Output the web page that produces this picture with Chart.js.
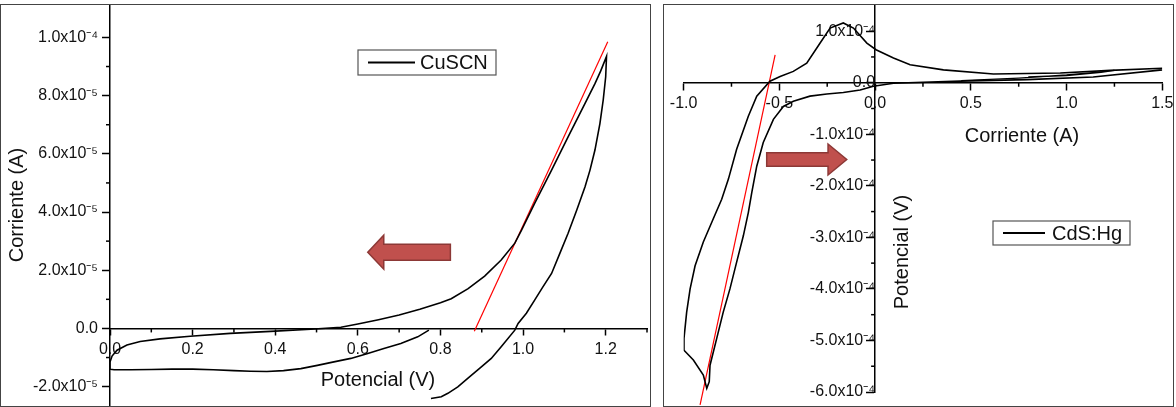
<!DOCTYPE html>
<html><head><meta charset="utf-8">
<script src="https://cdn.jsdelivr.net/npm/chart.js@4.4.0/dist/chart.umd.min.js"></script>
<style>
html,body{margin:0;padding:0;background:#fff;}
body{width:1176px;height:407px;position:relative;overflow:hidden;font-family:"Liberation Sans",Arial,sans-serif;}
.panel{position:absolute;}
#p1{left:0;top:0;width:655px;height:407px;}
#p2{left:660px;top:0;width:516px;height:407px;}
.frame{position:absolute;border:1.5px solid #444;box-sizing:border-box;pointer-events:none;}
</style></head><body>
<div class="panel" id="p1"><canvas id="c1"></canvas></div>
<div class="panel" id="p2"><canvas id="c2"></canvas></div>
<div class="frame" style="left:0;top:4px;width:651px;height:403px"></div>
<div class="frame" style="left:663px;top:4px;width:511px;height:403px"></div>
<script>
// ---------- DATA ----------
// Left panel: CuSCN  (Potencial in V, Corriente in A)
const cuscnV = [0.772,0.745,0.704,0.663,0.624,0.583,0.542,0.502,0.462,0.42,0.38,0.34,0.30,0.25,0.20,0.15,0.10,0.05,0.01,0.0,
  0.0,0.005,0.017,0.041,0.073,0.121,0.194,0.291,0.389,0.486,0.559,0.60,0.65,0.70,0.75,0.80,0.826,0.867,0.907,0.947,0.980,0.996,1.028,1.069,1.109,1.150,1.174,1.188,1.202,
  1.200,1.194,1.186,1.174,1.162,1.150,1.130,1.109,1.089,1.069,1.048,1.028,1.008,0.988,0.980,0.947,0.923,0.899,0.866,0.842,0.818,0.802,0.777];
const cuscnI = [-0.06e-5,-0.29e-5,-0.52e-5,-0.69e-5,-0.86e-5,-1.03e-5,-1.15e-5,-1.27e-5,-1.38e-5,-1.45e-5,-1.48e-5,-1.47e-5,-1.45e-5,-1.42e-5,-1.40e-5,-1.40e-5,-1.41e-5,-1.42e-5,-1.42e-5,-1.40e-5,
  -1.15e-5,-0.95e-5,-0.75e-5,-0.57e-5,-0.45e-5,-0.36e-5,-0.27e-5,-0.17e-5,-0.10e-5,-0.03e-5,0.04e-5,0.15e-5,0.30e-5,0.46e-5,0.66e-5,0.88e-5,1.02e-5,1.37e-5,1.80e-5,2.35e-5,2.93e-5,3.37e-5,4.30e-5,5.44e-5,6.58e-5,7.73e-5,8.41e-5,8.85e-5,9.35e-5,
  8.65e-5,7.85e-5,7.04e-5,6.13e-5,5.44e-5,4.87e-5,4.07e-5,3.27e-5,2.58e-5,1.89e-5,1.43e-5,0.97e-5,0.52e-5,0.17e-5,-0.06e-5,-0.63e-5,-1.03e-5,-1.32e-5,-1.72e-5,-2.01e-5,-2.23e-5,-2.35e-5,-2.41e-5];
const cuscnFitV = [0.882, 1.205];
const cuscnFitI = [-0.10e-5, 9.85e-5];

// Right panel: CdS:Hg (main cycle)
const cdsV = [1.50,1.228,0.967,0.618,0.357,0.183,0.096,0.005,-0.043,-0.113,-0.166,-0.235,-0.287,-0.357,-0.427,-0.496,-0.549,-0.618,-0.662,-0.723,
  -0.766,-0.801,-0.845,-0.897,-0.940,-0.966,-0.984,-0.998,-0.998,-0.949,-0.897,-0.879,-0.866,-0.862,-0.827,-0.793,-0.758,-0.723,-0.688,-0.662,
  -0.644,-0.618,-0.584,-0.531,-0.479,-0.427,-0.340,-0.252,-0.166,-0.078,-0.009,0.096,0.444,0.793,1.139,1.50];
const cdsI = [0.28e-4,0.24e-4,0.19e-4,0.17e-4,0.25e-4,0.35e-4,0.48e-4,0.64e-4,0.77e-4,1.06e-4,1.16e-4,1.06e-4,0.77e-4,0.38e-4,0.22e-4,0.12e-4,0.03e-4,-0.26e-4,-0.65e-4,-1.29e-4,
  -1.87e-4,-2.26e-4,-2.64e-4,-3.09e-4,-3.55e-4,-4.00e-4,-4.45e-4,-4.96e-4,-5.19e-4,-5.38e-4,-5.67e-4,-5.93e-4,-5.80e-4,-5.48e-4,-4.96e-4,-4.45e-4,-4.00e-4,-3.48e-4,-2.97e-4,-2.52e-4,
  -2.13e-4,-1.62e-4,-1.16e-4,-0.71e-4,-0.46e-4,-0.36e-4,-0.26e-4,-0.22e-4,-0.19e-4,-0.14e-4,-0.07e-4,-0.01e-4,0.03e-4,0.06e-4,0.11e-4,0.25e-4];
// Right panel: CdS:Hg (partial second cycle near the positive end)
const cdsV2 = [0.45,0.75,1.00,1.15,1.25,1.18,1.00,0.80];
const cdsI2 = [0.04e-4,0.09e-4,0.15e-4,0.20e-4,0.24e-4,0.20e-4,0.14e-4,0.11e-4];
const cdsFitV = [-0.522, -0.914];
const cdsFitI = [0.54e-4, -6.25e-4];

// Ticks
const leftXTicks = [0,0.2,0.4,0.6,0.8,1.0,1.2];
const leftXMinor = [0.1,0.3,0.5,0.7,0.9,1.1,1.3];
const leftYTicks = [-2e-5,0,2e-5,4e-5,6e-5,8e-5,1e-4];
const leftYMinor = [-1e-5,1e-5,3e-5,5e-5,7e-5,9e-5];
const rightXTicks = [-1.0,-0.5,0,0.5,1.0,1.5];
const rightXMinor = [-0.75,-0.25,0.25,0.75,1.25];
const rightYTicks = [-6e-4,-5e-4,-4e-4,-3e-4,-2e-4,-1e-4,0,1e-4];
const rightYMinor = [-5.5e-4,-4.5e-4,-3.5e-4,-2.5e-4,-1.5e-4,-0.5e-4,0.5e-4];

// ---------- HELPERS ----------
const FONT = '"Liberation Sans", Arial, sans-serif';
const SUP = {'-':'\u207B','0':'\u2070','1':'\u00B9','2':'\u00B2','3':'\u00B3','4':'\u2074','5':'\u2075','6':'\u2076','7':'\u2077','8':'\u2078','9':'\u2079'};
function sciLabel(v){
  if (Math.abs(v) < 1e-12) return '0.0';
  const e = Math.floor(Math.log10(Math.abs(v)) + 1e-9);
  const m = v / Math.pow(10, e);
  return m.toFixed(1) + 'x10' + String(e).split('').map(c => SUP[c]).join('');
}
function pts(xs, ys){ return xs.map((x,i)=>({x:x, y:ys[i]})); }
function noPad(s){ s.paddingTop = 0; s.paddingBottom = 0; s.paddingLeft = 0; s.paddingRight = 0; }

function drawArrow(ctx, x1, x2, y, bh, hh, hl){
  const d = Math.sign(x2 - x1), hb = x2 - d*hl;
  ctx.beginPath();
  ctx.moveTo(x1, y-bh); ctx.lineTo(hb, y-bh); ctx.lineTo(hb, y-hh); ctx.lineTo(x2, y);
  ctx.lineTo(hb, y+hh); ctx.lineTo(hb, y+bh); ctx.lineTo(x1, y+bh); ctx.closePath();
  ctx.fillStyle = 'rgb(192,80,77)'; ctx.fill();
  ctx.strokeStyle = 'rgb(140,56,54)'; ctx.lineWidth = 1.5; ctx.stroke();
}

const decorPlugin = {
  id: 'decor',
  afterDraw(chart, args, o){
    const ctx = chart.ctx, xs = chart.scales.x, ys = chart.scales.y;
    const x0 = xs.getPixelForValue(0), y0 = ys.getPixelForValue(0);
    ctx.save();
    ctx.strokeStyle = '#000'; ctx.lineWidth = 1.5;
    o.xMinor.forEach(v => { const p = xs.getPixelForValue(v); ctx.beginPath(); ctx.moveTo(p, y0); ctx.lineTo(p, y0 + o.minorLen); ctx.stroke(); });
    o.yMinor.forEach(v => { const p = ys.getPixelForValue(v); ctx.beginPath(); ctx.moveTo(x0, p); ctx.lineTo(x0 - o.minorLen, p); ctx.stroke(); });
    const a = o.arrow;
    drawArrow(ctx, xs.getPixelForValue(a.from), xs.getPixelForValue(a.to), ys.getPixelForValue(a.at), a.bh, a.hh, a.hl);
    ctx.fillStyle = '#111'; ctx.textAlign = 'center'; ctx.textBaseline = 'middle';
    o.titles.forEach(t => {
      ctx.save(); ctx.translate(t.x, t.y); ctx.rotate(t.rot || 0);
      ctx.font = t.size + 'px ' + FONT; ctx.fillText(t.text, 0, 0); ctx.restore();
    });
    const L = o.legend, ds = chart.data.datasets[0];
    ctx.fillStyle = '#fff'; ctx.fillRect(L.x, L.y, L.w, L.h);
    ctx.strokeStyle = '#555'; ctx.lineWidth = 1.2; ctx.strokeRect(L.x, L.y, L.w, L.h);
    const cy = L.y + L.h/2;
    ctx.strokeStyle = '#000'; ctx.lineWidth = 1.8;
    ctx.beginPath(); ctx.moveTo(L.x + L.l1, cy); ctx.lineTo(L.x + L.l2, cy); ctx.stroke();
    ctx.fillStyle = '#111'; ctx.textAlign = 'left'; ctx.font = L.size + 'px ' + FONT;
    ctx.fillText(ds.label, L.x + L.tx, cy + 1);
    ctx.restore();
  }
};

function axisCommon(tickLen, pad, size){
  return {
    type: 'linear',
    border: {display: true, color: '#000', width: 1.5},
    grid: {drawOnChartArea: false, drawTicks: true, tickLength: tickLen, color: '#000', tickWidth: 1.5},
    ticks: {color: '#111', font: {family: FONT, size: size}, padding: pad, autoSkip: false, maxRotation: 0, includeBounds: false}
  };
}
const lineDs = (label, xs, ys, color, w, extra) => Object.assign({label: label, data: pts(xs, ys), showLine: true, borderColor: color, borderWidth: w, pointRadius: 0, tension: 0, fill: false}, extra || {});

// ---------- LEFT CHART ----------
const lx = axisCommon(6, 6, 16);
Object.assign(lx, {min: 0, max: 1.3, position: {y: 0},
  afterBuildTicks: s => { s.ticks = leftXTicks.map(v => ({value: v})); },
  afterFit: noPad});
lx.ticks.callback = v => v.toFixed(1);
const ly = axisCommon(8, 4, 16);
Object.assign(ly, {min: -2.70e-5, max: 1.108e-4, position: 'left',
  afterBuildTicks: s => { s.ticks = leftYTicks.map(v => ({value: v})); },
  afterFit: s => { noPad(s); s.width = 110; }});
ly.ticks.callback = v => sciLabel(v);

new Chart(document.getElementById('c1'), {
  type: 'scatter',
  data: {datasets: [
    lineDs('CuSCN', cuscnV, cuscnI, '#000', 1.6),
    lineDs('fit', cuscnFitV, cuscnFitI, '#ff0000', 1.2)
  ]},
  options: {
    animation: false, responsive: true, maintainAspectRatio: false,
    layout: {padding: {left: 0, right: 8, top: 6, bottom: 0}},
    scales: {x: lx, y: ly},
    plugins: {legend: {display: false}, tooltip: {enabled: false},
      decor: {xMinor: leftXMinor, yMinor: leftYMinor, minorLen: 4,
        arrow: {from: 0.824, to: 0.624, at: 2.62e-5, bh: 8, hh: 17, hl: 16},
        titles: [{text: 'Corriente (A)', x: 17, y: 205, rot: -Math.PI/2, size: 20},
                 {text: 'Potencial (V)', x: 378, y: 380, size: 20}],
        legend: {x: 358, y: 50, w: 138, h: 25, l1: 10, l2: 57, tx: 62, size: 20}}
    }
  },
  plugins: [decorPlugin]
});

// ---------- RIGHT CHART ----------
const rx = axisCommon(7, 4, 16);
Object.assign(rx, {min: -1.0, max: 1.5, position: {y: 0},
  afterBuildTicks: s => { s.ticks = rightXTicks.map(v => ({value: v})); },
  afterFit: noPad});
rx.ticks.callback = v => v.toFixed(1);
const ry = axisCommon(8, 9, 16);
Object.assign(ry, {min: -6e-4, max: 1.5e-4, position: {x: 0},
  afterBuildTicks: s => { s.ticks = rightYTicks.map(v => ({value: v})); },
  afterFit: noPad});
ry.ticks.callback = v => sciLabel(v);

new Chart(document.getElementById('c2'), {
  type: 'scatter',
  data: {datasets: [
    lineDs('CdS:Hg', cdsV, cdsI, '#000', 1.6),
    lineDs('CdS:Hg (ciclo 2)', cdsV2, cdsI2, '#000', 1.4),
    lineDs('fit', cdsFitV, cdsFitI, '#ff0000', 1.2, {clip: false})
  ]},
  options: {
    animation: false, responsive: true, maintainAspectRatio: false,
    layout: {padding: {left: 23.6, right: 13.7, top: 5.4, bottom: 15}},
    scales: {x: rx, y: ry},
    plugins: {legend: {display: false}, tooltip: {enabled: false},
      decor: {xMinor: rightXMinor, yMinor: rightYMinor, minorLen: 4,
        arrow: {from: -0.566, to: -0.148, at: -1.49e-4, bh: 6.7, hh: 15.5, hl: 18.7},
        titles: [{text: 'Corriente (A)', x: 362, y: 136, size: 20},
                 {text: 'Potencial (V)', x: 242, y: 252, rot: -Math.PI/2, size: 20}],
        legend: {x: 333, y: 221, w: 137, h: 24, l1: 10, l2: 52, tx: 59, size: 20}}
    }
  },
  plugins: [decorPlugin]
});
</script>
</body></html>
